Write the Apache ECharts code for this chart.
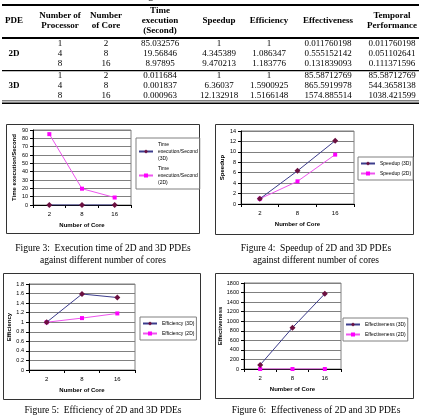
<!DOCTYPE html>
<html>
<head>
<meta charset="utf-8">
<script src="https://cdn.jsdelivr.net/npm/echarts@6/dist/echarts.min.js"></script>
<style>
  html, body { margin: 0; padding: 0; background: #fff; }
  #main { width: 421px; height: 415px; }
</style>
</head>
<body>
<div id="main"></div>
<script>
const cores = ['2', '8', '16'];
const processors = [1, 4, 8];
const coreCount = [2, 8, 16];

const time2D = [85.032576, 19.56846, 8.97895];
const time3D = [0.011684, 0.001837, 0.000963];
const speedup2D = [1, 4.345389, 9.470213];
const speedup3D = [1, 6.36037, 12.132918];
const efficiency2D = [1, 1.086347, 1.183776];
const efficiency3D = [1, 1.5900925, 1.5166148];
const effectiveness2D = [0.011760198, 0.555152142, 0.131839093];
const effectiveness3D = [85.58712769, 865.5919978, 1574.885514];
const temporal2D = [0.011760198, 0.051102641, 0.111371596];
const temporal3D = [85.58712769, 544.3658138, 1038.421599];

const headers = [['PDE'], ['Number of', 'Processor'], ['Number', 'of Core'], ['Time', 'execution', '(Second)'],
    ['Speedup'], ['Efficiency'], ['Effectiveness'], ['Temporal', 'Performance']];

const c3D = '#3c3c8c', m3D = '#6b1040';
const c2D = '#ee55ee', m2D = '#ff00ff';
const sans = 'Liberation Sans';
const serif = 'Liberation Serif';

const chart = echarts.init(document.getElementById('main'));

// ---- table + captions drawn as graphic text ----
const colX = [14, 60, 106, 160, 219, 269, 328, 392];
const g = [];

function txt(x, y, s, opt) {
    g.push(Object.assign({
        type: 'text', x: x, y: y,
        style: Object.assign({text: s, fontFamily: serif, fontSize: 9, fill: '#000', align: 'center', verticalAlign: 'middle'}, opt || {})
    }));
}
function rule(y, w) {
    g.push({type: 'rect', shape: {x: 2, y: y, width: 417, height: w}, style: {fill: '#000'}});
}

// caption of the previous table, cut off at the top edge
txt(210, 1, 'against different number of cores', {fontSize: 10, verticalAlign: 'bottom'});
rule(4, 2);
headers.forEach((h, i) => {
    txt(colX[i], 21, h.join('\n'), {fontWeight: 'bold', lineHeight: 10});
});
rule(37, 2);
const rowsY = [[44, 54, 64], [76, 86, 96]];
const blocks = [
    ['2D', time2D, speedup2D, efficiency2D, effectiveness2D, temporal2D],
    ['3D', time3D, speedup3D, efficiency3D, effectiveness3D, temporal3D]
];
blocks.forEach((b, k) => {
    txt(colX[0], rowsY[k][1], b[0], {fontWeight: 'bold'});
    for (let r = 0; r < 3; r++) {
        const y = rowsY[k][r];
        txt(colX[1], y, String(processors[r]));
        txt(colX[2], y, String(coreCount[r]));
        for (let c = 1; c <= 5; c++) txt(colX[c + 2], y, String(b[c][r]));
    }
});
rule(70, 1.2);
rule(100.5, 0.8);
rule(102.5, 1.6);

// chart frames
[[6, 124, 193, 109], [215, 124, 198, 110], [3, 273, 197, 126], [215, 273, 198, 125]].forEach(r => {
    g.push({type: 'rect', shape: {x: r[0] + 0.5, y: r[1] + 0.5, width: r[2], height: r[3]},
        style: {fill: 'none', stroke: '#333', lineWidth: 1}});
});

const capSize = 9.5;
txt(103, 248, 'Figure 3:  Execution time of 2D and 3D PDEs', {fontSize: capSize});
txt(103, 260, 'against different number of cores', {fontSize: capSize});
txt(316, 248, 'Figure 4:  Speedup of 2D and 3D PDEs', {fontSize: capSize});
txt(316, 260, 'against different number of cores', {fontSize: capSize});
txt(103, 410, 'Figure 5:  Efficiency of 2D and 3D PDEs', {fontSize: capSize});
txt(316, 410, 'Figure 6:  Effectiveness of 2D and 3D PDEs', {fontSize: capSize});

// ---- four line charts ----
const grids = [
    {left: 33, top: 130, width: 98, height: 75},
    {left: 241, top: 131, width: 113, height: 73},
    {left: 29, top: 284, width: 106, height: 86},
    {left: 244, top: 283, width: 97, height: 86}
];
const yCfg = [
    {max: 90, interval: 10, name: 'Time execution/Second', gap: 16},
    {max: 14, interval: 2, name: 'Speedup', gap: 16},
    {max: 1.8, interval: 0.2, name: 'Efficiency', gap: 17},
    {max: 1800, interval: 200, name: 'Effectiveness', gap: 21}
];
const names = [
    ['Time execution/Second (3D)', 'Time execution/Second (2D)'],
    ['Speedup (3D)', 'Speedup (2D)'],
    ['Efficiency (3D)', 'Efficiency (2D)'],
    ['Effectiveness (3D)', 'Effectiveness (2D)']
];
const data = [[time3D, time2D], [speedup3D, speedup2D], [efficiency3D, efficiency2D], [effectiveness3D, effectiveness2D]];
const legendPos = [[136, 138], [358, 157], [140, 317], [343, 318]];

const xAxis = grids.map((gr, i) => ({
    type: 'category', gridIndex: i, data: cores, boundaryGap: true,
    name: 'Number of Core', nameLocation: 'middle', nameGap: 17,
    nameTextStyle: {fontFamily: sans, fontSize: 6, fontWeight: 'bold', color: '#000'},
    axisLine: {lineStyle: {color: '#000', width: 1}},
    axisTick: {show: true, length: 3, lineStyle: {color: '#000'}},
    axisLabel: {fontFamily: sans, fontSize: 6, color: '#000', margin: 6},
    splitLine: {show: false}
}));
const yAxis = yCfg.map((c, i) => ({
    type: 'value', gridIndex: i, min: 0, max: c.max, interval: c.interval,
    name: c.name, nameLocation: 'middle', nameGap: c.gap, nameRotate: 90,
    nameTextStyle: {fontFamily: sans, fontSize: 6, fontWeight: 'bold', color: '#000'},
    axisLine: {show: true, lineStyle: {color: '#000', width: 1}},
    axisTick: {show: true, length: 3, lineStyle: {color: '#000'}},
    axisLabel: {fontFamily: sans, fontSize: 5.5, color: '#000', margin: 5,
        formatter: v => String(Math.round(v * 100) / 100)},
    splitLine: {show: true, lineStyle: {color: '#808080', width: 1}}
}));
const series = [];
data.forEach((pair, i) => {
    series.push({
        name: names[i][0], type: 'line', xAxisIndex: i, yAxisIndex: i, data: pair[0],
        symbol: 'diamond', symbolSize: 6, animation: false, z: 3,
        lineStyle: {color: c3D, width: 1}, itemStyle: {color: m3D}
    });
    series.push({
        name: names[i][1], type: 'line', xAxisIndex: i, yAxisIndex: i, data: pair[1],
        symbol: 'rect', symbolSize: 4, animation: false, z: 2,
        lineStyle: {color: c2D, width: 1}, itemStyle: {color: m2D}
    });
});
const legend = names.map((n, i) => ({
    data: n, orient: 'vertical', left: legendPos[i][0], top: legendPos[i][1],
    borderColor: '#808080', borderWidth: 1, padding: [3, 2, 3, 2], itemGap: 3,
    itemWidth: 14, itemHeight: 5, selectedMode: false,
    formatter: i === 0 ? (s => s.replace(' (', '\n(').replace('Time ', 'Time\n')) : undefined,
    textStyle: {fontFamily: sans, fontSize: 5, color: '#000', lineHeight: 7}
}));

chart.setOption({
    animation: false,
    grid: grids.map(gr => Object.assign({show: true, borderColor: '#808080', borderWidth: 1, backgroundColor: '#fff'}, gr)),
    xAxis: xAxis,
    yAxis: yAxis,
    legend: legend,
    series: series,
    graphic: g
});
</script>
</body>
</html>
